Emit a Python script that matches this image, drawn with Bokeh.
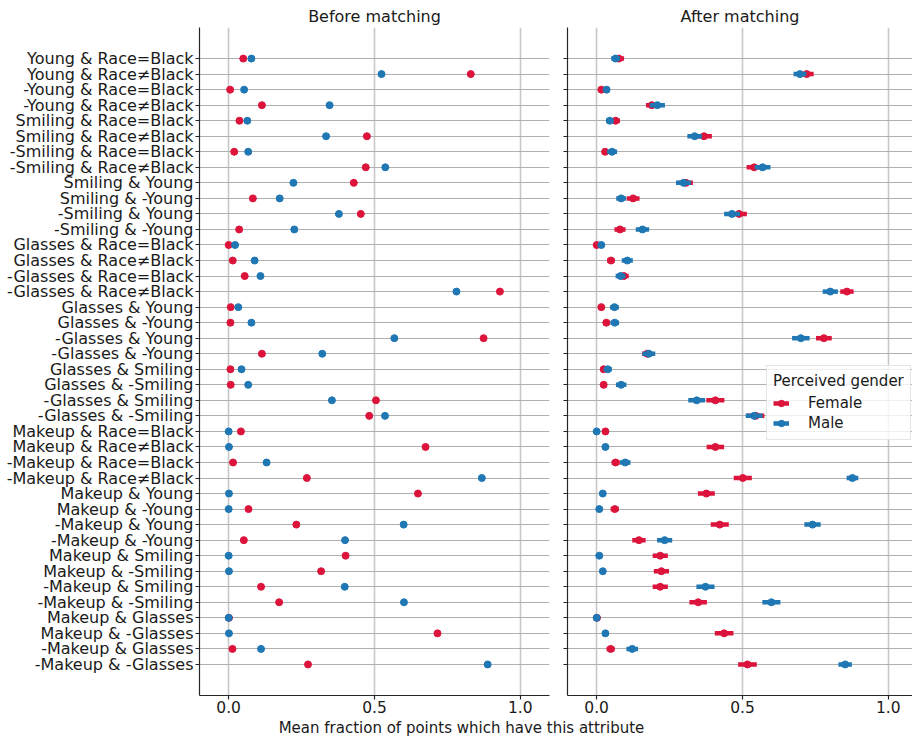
import numpy as np
from bokeh.plotting import figure
from bokeh.models import (FactorRange, Range1d, Legend, LegendItem,
                          FixedTicker, PrintfTickFormatter)
from bokeh.layouts import row, column
from bokeh.embed import file_html
from bokeh.resources import INLINE
from bokeh.core.properties import value

# ---------------- data ----------------
categories = [
    "Young & Race=Black", "Young & Race≠Black", "-Young & Race=Black", "-Young & Race≠Black",
    "Smiling & Race=Black", "Smiling & Race≠Black", "-Smiling & Race=Black", "-Smiling & Race≠Black",
    "Smiling & Young", "Smiling & -Young", "-Smiling & Young", "-Smiling & -Young",
    "Glasses & Race=Black", "Glasses & Race≠Black", "-Glasses & Race=Black", "-Glasses & Race≠Black",
    "Glasses & Young", "Glasses & -Young", "-Glasses & Young", "-Glasses & -Young",
    "Glasses & Smiling", "Glasses & -Smiling", "-Glasses & Smiling", "-Glasses & -Smiling",
    "Makeup & Race=Black", "Makeup & Race≠Black", "-Makeup & Race=Black", "-Makeup & Race≠Black",
    "Makeup & Young", "Makeup & -Young", "-Makeup & Young", "-Makeup & -Young",
    "Makeup & Smiling", "Makeup & -Smiling", "-Makeup & Smiling", "-Makeup & -Smiling",
    "Makeup & Glasses", "Makeup & -Glasses", "-Makeup & Glasses", "-Makeup & -Glasses",
]

female_before = [0.050, 0.830, 0.005, 0.114, 0.037, 0.474, 0.019, 0.470,
                 0.429, 0.083, 0.453, 0.036, 0.000, 0.014, 0.055, 0.930,
                 0.007, 0.006, 0.874, 0.114, 0.006, 0.007, 0.505, 0.482,
                 0.042, 0.675, 0.015, 0.268, 0.649, 0.068, 0.232, 0.052,
                 0.401, 0.317, 0.111, 0.173, 0.001, 0.716, 0.013, 0.272]
male_before = [0.078, 0.524, 0.053, 0.346, 0.064, 0.334, 0.067, 0.537,
               0.222, 0.175, 0.378, 0.225, 0.022, 0.089, 0.109, 0.781,
               0.033, 0.078, 0.568, 0.321, 0.044, 0.067, 0.354, 0.536,
               0.000, 0.001, 0.130, 0.868, 0.001, 0.000, 0.600, 0.399,
               0.000, 0.001, 0.398, 0.601, 0.000, 0.001, 0.111, 0.888]

female_after = [0.076, 0.720, 0.016, 0.189, 0.065, 0.368, 0.029, 0.540,
                0.306, 0.125, 0.488, 0.080, 0.000, 0.049, 0.093, 0.858,
                0.016, 0.033, 0.779, 0.173, 0.024, 0.024, 0.407, 0.545,
                0.030, 0.407, 0.065, 0.501, 0.376, 0.062, 0.422, 0.145,
                0.218, 0.222, 0.218, 0.348, 0.001, 0.437, 0.048, 0.517]
female_after_err = [0.018, 0.024, 0.008, 0.020, 0.015, 0.027, 0.008, 0.026,
                    0.024, 0.022, 0.027, 0.019, 0.006, 0.013, 0.017, 0.023,
                    0.007, 0.011, 0.027, 0.017, 0.007, 0.005, 0.031, 0.030,
                    0.006, 0.030, 0.014, 0.031, 0.029, 0.014, 0.031, 0.023,
                    0.026, 0.026, 0.026, 0.030, 0.003, 0.032, 0.014, 0.032]
male_after = [0.065, 0.697, 0.034, 0.208, 0.045, 0.336, 0.053, 0.569,
              0.298, 0.084, 0.464, 0.157, 0.016, 0.105, 0.082, 0.801,
              0.061, 0.062, 0.700, 0.179, 0.038, 0.084, 0.343, 0.540,
              0.000, 0.030, 0.098, 0.877, 0.021, 0.009, 0.740, 0.233,
              0.009, 0.021, 0.373, 0.599, 0.000, 0.030, 0.122, 0.852]
male_after_err = [0.015, 0.022, 0.010, 0.026, 0.013, 0.025, 0.017, 0.027,
                  0.026, 0.017, 0.027, 0.023, 0.008, 0.019, 0.017, 0.026,
                  0.015, 0.015, 0.030, 0.022, 0.014, 0.018, 0.029, 0.029,
                  0.004, 0.008, 0.018, 0.020, 0.006, 0.005, 0.028, 0.026,
                  0.005, 0.007, 0.031, 0.031, 0.003, 0.008, 0.020, 0.023]

x_ticks = [0.0, 0.5, 1.0]
panel_titles = ["Before matching", "After matching"]
x_label = "Mean fraction of points which have this attribute"
legend_title = "Perceived gender"
group_labels = ["Female", "Male"]

# ---------------- style ----------------
FONT = "DejaVu Sans"
RED = "#dc143c"
BLUE = "#1f77b4"
TXT = "#1a1a1a"
SPINE = "#262626"
H = 717
MB_TOP, MB_BOTTOM = 27, 22
SCALE = 350 / 1.2   # px per data unit on x


def make_panel(width, mbl, mbr, x_end, show_labels, title):
    p = figure(width=width, height=H, title=title,
               y_range=FactorRange(factors=categories[::-1], range_padding=1.5,
                                   range_padding_units="absolute"),
               x_range=Range1d(-0.1, x_end),
               toolbar_location=None, output_backend="svg",
               min_border_left=mbl, min_border_right=mbr,
               min_border_top=MB_TOP, min_border_bottom=MB_BOTTOM)
    p.outline_line_color = None
    p.background_fill_color = "white"
    p.border_fill_color = "white"
    # title
    p.title.align = "center"
    p.title.text_font = FONT
    p.title.text_font_size = "16px"
    p.title.text_font_style = "normal"
    p.title.text_color = TXT
    p.title.standoff = 3
    p.title.offset = 0
    # x axis
    p.xaxis.ticker = FixedTicker(ticks=x_ticks)
    p.xaxis.formatter = PrintfTickFormatter(format="%.1f")
    p.xaxis.major_tick_out = 4
    p.xaxis.major_tick_in = 0
    p.xaxis.minor_tick_out = 0
    p.xaxis.minor_tick_in = 0
    p.xaxis.major_label_standoff = 1
    p.xaxis.major_label_text_font = FONT
    p.xaxis.major_label_text_font_size = "15.5px"
    p.xaxis.major_label_text_color = TXT
    p.xaxis.axis_line_color = SPINE
    p.xaxis.axis_line_width = 1.2
    p.xaxis.major_tick_line_color = SPINE
    p.xaxis.major_tick_line_width = 1.2
    # y axis
    p.yaxis.major_tick_out = 4
    p.yaxis.major_tick_in = 0
    p.yaxis.axis_line_color = SPINE
    p.yaxis.axis_line_width = 1.2
    p.yaxis.major_tick_line_color = SPINE
    p.yaxis.major_tick_line_width = 1.2
    p.yaxis.major_label_text_font = FONT
    p.yaxis.major_label_text_font_size = "16px"
    if show_labels:
        p.yaxis.major_label_standoff = 2
        p.yaxis.major_label_text_color = TXT
    else:
        p.yaxis.major_label_standoff = 0
        p.yaxis.major_label_text_color = None   # ticks only, shared labels on the left
    # grids
    p.xgrid.grid_line_color = "#c8c8c8"
    p.xgrid.grid_line_width = 1.6
    p.ygrid.grid_line_color = "#b0b0b0"
    p.ygrid.grid_line_width = 1.0
    return p


W1 = 553
W2 = 912 - W1
p1 = make_panel(W1, 199, 4, 1.1, True, panel_titles[0])
p2 = make_panel(W2, 14, 0, -0.1 + (W2 - 14) / SCALE, False, panel_titles[1])

# left panel: dots only
p1.scatter(x=female_before, y=categories, size=7, color=RED)
p1.scatter(x=male_before, y=categories, size=7, color=BLUE)

# right panel: error bars + dots
fa = np.array(female_after)
fe = np.array(female_after_err)
ma = np.array(male_after)
me = np.array(male_after_err)
seg_f = p2.segment(x0=fa - fe, x1=fa + fe, y0=categories, y1=categories,
                   line_color=RED, line_width=4.5)
dot_f = p2.scatter(x=female_after, y=categories, size=7, color=RED)
seg_m = p2.segment(x0=ma - me, x1=ma + me, y0=categories, y1=categories,
                   line_color=BLUE, line_width=4.5)
dot_m = p2.scatter(x=male_after, y=categories, size=7, color=BLUE)

legend = Legend(items=[LegendItem(label=group_labels[0], renderers=[seg_f, dot_f]),
                       LegendItem(label=group_labels[1], renderers=[seg_m, dot_m])],
                location=(199, 255), title=legend_title,
                title_text_font=FONT, title_text_font_size="15px",
                title_text_font_style="normal", title_text_color=TXT,
                title_standoff=3,
                label_text_font=FONT, label_text_font_size="15px",
                label_text_color=TXT, label_standoff=19,
                glyph_width=16, glyph_height=20, label_height=20,
                spacing=0, padding=6, margin=0,
                border_line_color="#cccccc", border_line_width=1,
                background_fill_color="white", background_fill_alpha=0.8)
p2.add_layout(legend)

# bottom strip holding the shared x label (text hung from the strip's top edge)
H3 = 738 - H
p3 = figure(width=912, height=H3, x_range=Range1d(0, 912), y_range=Range1d(0, H3),
            toolbar_location=None, output_backend="svg",
            min_border_left=0, min_border_right=0, min_border_top=0, min_border_bottom=0,
            x_axis_location=None, y_axis_location=None)
p3.outline_line_color = None
p3.border_fill_color = "white"
p3.background_fill_color = "white"
p3.xgrid.visible = False
p3.ygrid.visible = False
p3.text(x=[461], y=[H3], text=[x_label], text_align="center",
        text_baseline="top", y_offset=1, text_font=value(FONT),
        text_font_size="15px", text_color=TXT)

layout = column(row(p1, p2), p3)
open("out.html", "w").write(file_html(layout, INLINE))
